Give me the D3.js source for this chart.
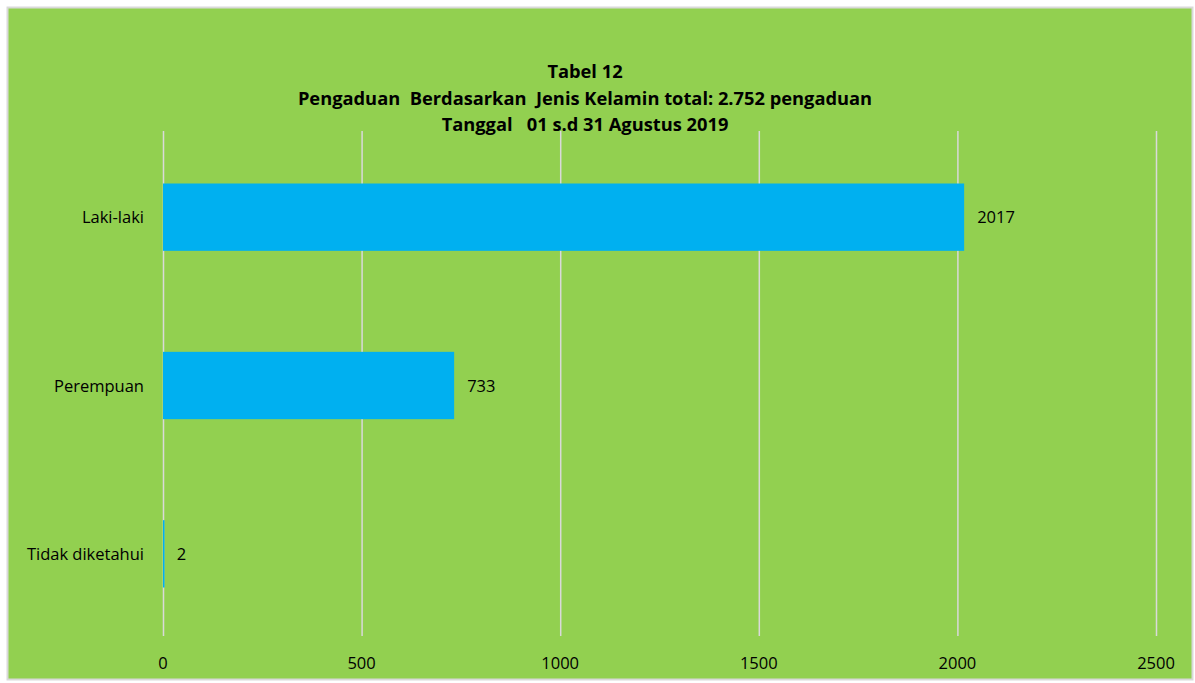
<!DOCTYPE html>
<html>
<head>
<meta charset="utf-8">
<script src="https://cdn.jsdelivr.net/npm/d3@7"></script>
<style>
  html, body { margin: 0; padding: 0; background: #ffffff; }
  svg { display: block; }
</style>
</head>
<body>
<svg id="chart" width="1195" height="683"></svg>
<script>
// Complaint counts by gender, 01–31 August 2019
const categories = ["Laki-laki", "Perempuan", "Tidak diketahui"];
const values = [2017, 733, 2];
const xTicks = [0, 500, 1000, 1500, 2000, 2500];
const titleLines = [
  "Tabel 12",
  "Pengaduan  Berdasarkan  Jenis Kelamin total: 2.752 pengaduan",
  "Tanggal   01 s.d 31 Agustus 2019"
];

const svg = d3.select("#chart");
const font = "'Open Sans', Lato, sans-serif";
const labelSize = 16.5;

// chart area background
svg.append("rect")
  .attr("x", 7.5).attr("y", 7.5)
  .attr("width", 1185).attr("height", 672)
  .attr("fill", "#92D050")
  .attr("stroke", "#d9d9d9")
  .attr("stroke-width", 2);

const plot = { left: 163, right: 1156, top: 131, bottom: 636 };

const x = d3.scaleLinear().domain([0, 2500]).range([plot.left, plot.right]);
const y = d3.scaleBand().domain(categories)
  .range([plot.top + 2, plot.bottom + 2])
  .paddingInner(0.6).paddingOuter(0.3);

// vertical gridlines
svg.append("g")
  .selectAll("line")
  .data(xTicks)
  .join("line")
  .attr("x1", d => x(d) + 0.5).attr("x2", d => x(d) + 0.5)
  .attr("y1", plot.top).attr("y2", plot.bottom)
  .attr("stroke", "#d9d9d9")
  .attr("stroke-width", 1.5);

// x tick labels
svg.append("g")
  .selectAll("text")
  .data(xTicks)
  .join("text")
  .attr("x", d => x(d))
  .attr("y", 669)
  .attr("text-anchor", "middle")
  .attr("font-family", font)
  .attr("font-size", labelSize)
  .attr("fill", "#000")
  .text(d => d);

// bars
svg.append("g")
  .selectAll("rect")
  .data(values)
  .join("rect")
  .attr("x", x(0))
  .attr("y", (d, i) => y(categories[i]))
  .attr("width", d => Math.max(x(d) - x(0), 1.5))
  .attr("height", y.bandwidth())
  .attr("fill", "#00B0F0");

// category labels
svg.append("g")
  .selectAll("text")
  .data(categories)
  .join("text")
  .attr("x", 144)
  .attr("y", d => y(d) + y.bandwidth() / 2 + 6)
  .attr("text-anchor", "end")
  .attr("font-family", font)
  .attr("font-size", labelSize)
  .attr("fill", "#000")
  .text(d => d);

// value labels
svg.append("g")
  .selectAll("text")
  .data(values)
  .join("text")
  .attr("x", d => x(d) + 13)
  .attr("y", (d, i) => y(categories[i]) + y.bandwidth() / 2 + 6)
  .attr("font-family", font)
  .attr("font-size", labelSize)
  .attr("fill", "#000")
  .text(d => d);

// title
svg.append("g")
  .selectAll("text")
  .data(titleLines)
  .join("text")
  .attr("x", 585)
  .attr("y", (d, i) => 78 + i * 26.5)
  .attr("text-anchor", "middle")
  .attr("font-family", font)
  .attr("font-weight", "bold")
  .attr("font-size", 18.3)
  .attr("fill", "#000")
  .attr("xml:space", "preserve")
  .style("white-space", "pre")
  .text(d => d);
</script>
</body>
</html>
